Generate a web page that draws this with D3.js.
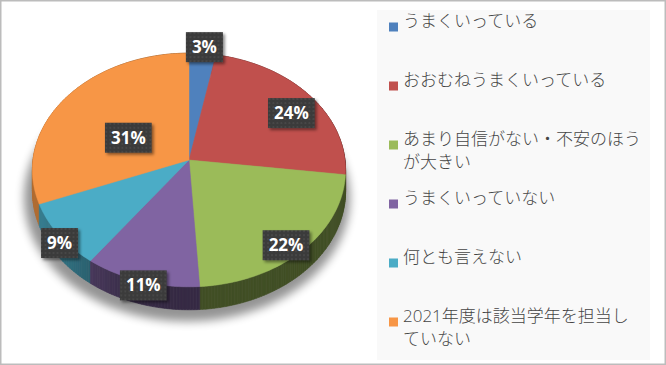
<!DOCTYPE html>
<html>
<head>
<meta charset="utf-8">
<script src="https://cdn.jsdelivr.net/npm/d3@7"></script>
<style>
  html, body { margin: 0; padding: 0; background: #fff; }
  svg { display: block; }
</style>
</head>
<body>
<div id="chart"></div>
<script>
// data
const categories = [
  "うまくいっている",
  "おおむねうまくいっている",
  "あまり自信がない・不安のほうが大きい",
  "うまくいっていない",
  "何とも言えない",
  "2021年度は該当学年を担当していない"
];
const shares = [3, 24, 22, 11, 9, 31];
const pctLabels = ["3%", "24%", "22%", "11%", "9%", "31%"];
const colors = ["#4F81BD", "#C0504D", "#9BBB59", "#8064A2", "#4BACC6", "#F79646"];

const W = 666, H = 365;
// 3d pie geometry
const cx = 189, cy = 160, RX = 156, RY = 116, PERSP = 0.0855, DEPTH = 21;

const svg = d3.select("#chart").append("svg")
  .attr("width", W).attr("height", H);

const defs = svg.append("defs");
const pat = defs.append("pattern").attr("id", "dots")
  .attr("width", 4).attr("height", 4).attr("patternUnits", "userSpaceOnUse");
pat.append("rect").attr("width", 4).attr("height", 4).attr("fill", "#3a3a3a");
pat.append("circle").attr("cx", 2).attr("cy", 2).attr("r", 0.7).attr("fill", "#5e5e5e");

defs.append("filter").attr("id", "boxShadow")
  .attr("x", "-20%").attr("y", "-20%").attr("width", "150%").attr("height", "160%")
  .append("feDropShadow").attr("dx", 2).attr("dy", 2).attr("stdDeviation", 1.5)
  .attr("flood-color", "#000").attr("flood-opacity", 0.45);

defs.append("filter").attr("id", "pieShadow")
  .attr("x", "-20%").attr("y", "-20%").attr("width", "140%").attr("height", "140%")
  .append("feGaussianBlur").attr("stdDeviation", 5);

// frame
svg.append("rect").attr("x", 0.75).attr("y", 0.75).attr("width", W - 1.5).attr("height", H - 1.5)
  .attr("fill", "#fff").attr("stroke", "#bcbcbc").attr("stroke-width", 1.5);

// project a point of the unit disk (angle clockwise from 12 o'clock)
function proj(theta, r, down) {
  const u = r * Math.sin(theta), v = -r * Math.cos(theta);
  const f = 1 / (1 - PERSP * v);
  return [cx + RX * u * f, cy + RY * v * f + (down ? DEPTH * f : 0)];
}

const pie = d3.pie().sort(null).value(d => d);
const arcs = pie(shares);

// shadow below the pie
const outline = [];
for (let t = 0; t <= 360; t += 2) outline.push(proj(t * Math.PI / 180, 1.04, true));
svg.append("path")
  .attr("d", d3.line()(outline) + "Z")
  .attr("transform", "translate(-2,6)")
  .attr("fill", "#000").attr("opacity", 0.42)
  .attr("filter", "url(#pieShadow)");

// side walls as thin quads, back to front
const quads = [];
arcs.forEach((a, i) => {
  const n = Math.max(2, Math.ceil((a.endAngle - a.startAngle) / (Math.PI / 180)));
  const step = (a.endAngle - a.startAngle) / n;
  for (let k = 0; k < n; k++) {
    const t0 = a.startAngle + k * step, t1 = t0 + step, tm = (t0 + t1) / 2;
    const u = Math.sin(tm);
    const shade = 0.42 + 0.3 * Math.max(0, Math.min(1, (-u - 0.3) / 0.6));
    const c = d3.rgb(colors[i]);
    const fill = d3.rgb(c.r * shade, c.g * shade, c.b * shade).formatHex();
    quads.push({
      v: -Math.cos(tm),
      pts: [proj(t0, 1), proj(t1, 1), proj(t1, 1, true), proj(t0, 1, true)],
      fill: fill
    });
  }
});
quads.sort((a, b) => a.v - b.v);
svg.append("g").selectAll("path").data(quads).join("path")
  .attr("d", d => d3.line()(d.pts) + "Z")
  .attr("fill", d => d.fill)
  .attr("stroke", d => d.fill).attr("stroke-width", 0.6);

// top faces
svg.append("g").selectAll("path").data(arcs).join("path")
  .attr("d", a => {
    const pts = [proj(0, 0)];
    const n = Math.max(2, Math.ceil((a.endAngle - a.startAngle) / (Math.PI / 180)));
    for (let k = 0; k <= n; k++) pts.push(proj(a.startAngle + (a.endAngle - a.startAngle) * k / n, 1));
    return d3.line()(pts) + "Z";
  })
  .attr("fill", (a, i) => colors[i])
  .attr("stroke", (a, i) => colors[i]).attr("stroke-width", 0.5);

// data labels: small slices sit on the rim, large ones are pulled inward
const lab = svg.append("g").selectAll("g").data(arcs).join("g")
  .attr("transform", a => {
    const p = (a.endAngle - a.startAngle) / (2 * Math.PI);
    const r = Math.min(1.05, 1.98 - 4.87 * p);
    const t = (a.startAngle + a.endAngle) / 2;
    const x = cx + RX * r * Math.sin(t);
    const y = cy + DEPTH * 0.4 - RY * r * Math.cos(t);
    return `translate(${x},${y})`;
  });
lab.append("text")
  .attr("text-anchor", "middle").attr("dy", "0.36em")
  .attr("font-family", "'Open Sans', 'DejaVu Sans', sans-serif")
  .attr("font-weight", "bold").attr("font-size", 17)
  .attr("fill", "#fff")
  .text((a, i) => pctLabels[i]);
lab.each(function() {
  const g = d3.select(this);
  const w = g.select("text").node().getComputedTextLength() + 12;
  g.insert("rect", "text")
    .attr("x", -w / 2).attr("y", -15).attr("width", w).attr("height", 30)
    .attr("fill", "url(#dots)").attr("filter", "url(#boxShadow)");
});

// legend
svg.append("rect").attr("x", 377).attr("y", 10).attr("width", 273).attr("height", 350)
  .attr("fill", "#f9f9f9");
const ly = d3.scalePoint().domain(categories).range([27, 322]);
const leg = svg.append("g").selectAll("g").data(categories).join("g")
  .attr("transform", d => `translate(389,${ly(d)})`);
leg.append("rect").attr("x", 0).attr("y", -4.5).attr("width", 9).attr("height", 9)
  .attr("fill", (d, i) => colors[i]);
leg.each(function(d) {
  const t = d3.select(this).append("text")
    .attr("x", 14).attr("dy", "0.36em")
    .attr("font-family", "'Open Sans', 'Noto Sans CJK JP', sans-serif")
    .attr("font-size", 17).attr("font-weight", 300)
    .attr("fill", "#454545");
  const maxW = 239;
  let line = "";
  let ts = t.append("tspan").attr("x", 14).attr("dy", 0);
  for (const ch of d) {
    ts.text(line + ch);
    if (ts.node().getComputedTextLength() > maxW && line) {
      ts.text(line);
      line = ch;
      ts = t.append("tspan").attr("x", 14).attr("dy", 23).text(line);
    } else {
      line += ch;
    }
  }
});
</script>
</body>
</html>
